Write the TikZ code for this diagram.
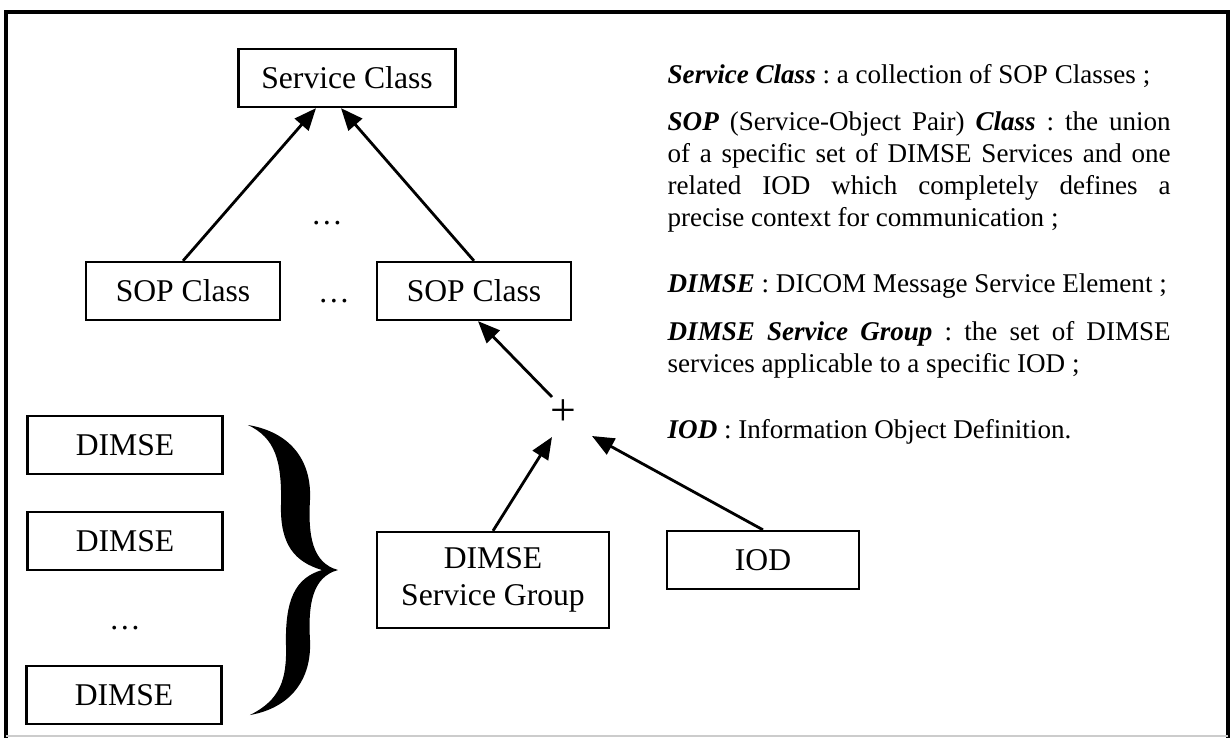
\documentclass[tikz,border=0pt]{standalone}
\usepackage{fontspec}
\setmainfont{Liberation Serif}
\usetikzlibrary{arrows.meta}
\hyphenpenalty=10000
\exhyphenpenalty=10000
\frenchspacing

\begin{document}
\begin{tikzpicture}
[x=0.1mm,y=-0.1mm
,bx/.style={rectangle,draw,line width=0.65pt,minimum width=19.4mm,minimum height=5.8mm,inner sep=0pt,align=center,font=\fontsize{9}{10.5}\selectfont}
,wbx/.style={bx,minimum width=21.7mm}
,be/.style={draw=black,line width=0.8pt,arrows={-Triangle[length=2.2mm,width=1.8mm]}}
,dd/.style={anchor=base,inner sep=0pt,font=\fontsize{9}{10.5}\selectfont}
,dfn/.style={anchor=base west,text width=50.3mm,align=justify,inner sep=0pt,font=\fontsize{7.7}{9.16}\selectfont}
]
\useasboundingbox (0,0) rectangle (1230,738);
% frame
\draw[line width=0.9pt] (6,738) -- (6,12) -- (1228,12) -- (1228,738);
\draw[black!20,line width=0.4pt] (6,736) -- (1228,736);
% class tree
\node[wbx] (svc) at (347,78) {Service Class};
\node[bx] (sop1) at (183,291) {SOP Class};
\node[bx] (sop2) at (474,291) {SOP Class};
\node[dd] (d1) at (327,224) {…};
\node[dd] (d2) at (334,302) {…};
\node[font=\fontsize{13}{13}\selectfont,inner sep=0pt] (plus) at (563,413) {+};
\node[bx,minimum width=23.2mm,minimum height=9.6mm] (dsg) at (493,580) {DIMSE\\Service Group};
\node[bx,minimum width=19.2mm] (iod) at (763,560) {IOD};
\draw[be] (sop1.north) -- ([xshift=-3.1mm]svc.south);
\draw[be] (sop2.north) -- ([xshift=-0.6mm]svc.south);
\draw[be] ([xshift=-1.1mm,yshift=1.6mm]plus.center) -- ([xshift=0.4mm]sop2.south);
\draw[be] (dsg.north) -- ([xshift=-1.1mm,yshift=-2.4mm]plus.center);
\draw[be] (iod.north) -- ([xshift=2.9mm,yshift=-2.3mm]plus.center);
% DIMSE column
\node[bx,minimum width=19.5mm] (m1) at (125,445) {DIMSE};
\node[bx,minimum width=19.5mm] (m2) at (125,541) {DIMSE};
\node[dd] (d3) at (125,629) {…};
\node[bx,minimum width=19.5mm] (m3) at (124,695) {DIMSE};
% brace
\fill (248,425) .. controls (290,432) and (312,460) .. (310,500)
  .. controls (308,535) and (312,563) .. (338,570)
  .. controls (312,577) and (308,605) .. (310,640)
  .. controls (312,680) and (290,708) .. (250,715)
  .. controls (280,700) and (287,680) .. (286,645)
  .. controls (285,600) and (295,578) .. (322,570)
  .. controls (295,562) and (280,545) .. (281,505)
  .. controls (282,460) and (275,438) .. (248,425) -- cycle;
% definitions
\node[dfn] (t1) at (667,83) {\textbf{\textit{Service Class}} : a collection of SOP Classes ;};
\node[dfn] (t2) at (667,130) {\textbf{\textit{SOP}} (Service-Object Pair) \textbf{\textit{Class}} : the union\linebreak of a specific set of DIMSE Services and one\linebreak related IOD which completely defines a\linebreak precise context for communication ;};
\node[dfn] (t3) at (667,292) {\textbf{\textit{DIMSE}} : DICOM Message Service Element ;};
\node[dfn] (t4) at (667,340) {\textbf{\textit{DIMSE Service Group}} : the set of DIMSE\linebreak services applicable to a specific IOD ;};
\node[dfn] (t5) at (667,438) {\textbf{\textit{IOD}} : Information Object Definition.};
\end{tikzpicture}
\end{document}
